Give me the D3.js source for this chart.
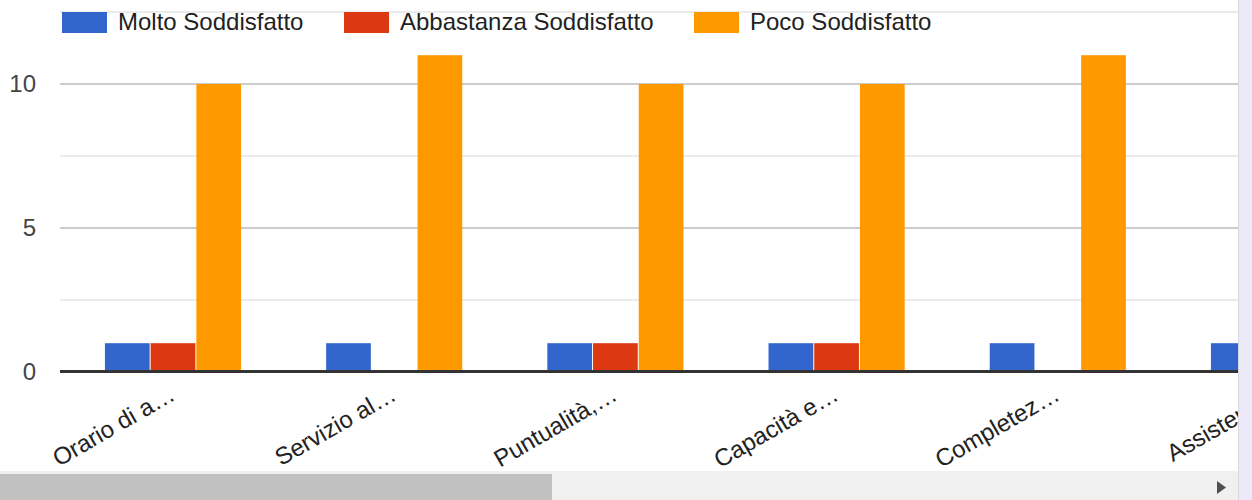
<!DOCTYPE html>
<html>
<head>
<meta charset="utf-8">
<script src="https://cdn.jsdelivr.net/npm/d3@7"></script>
<style>
  html, body { margin: 0; padding: 0; background: #fff; overflow: hidden; }
  svg { display: block; font-family: "Liberation Sans", Arial, sans-serif; }
</style>
</head>
<body>
<svg id="chart" width="1252" height="500"></svg>
<script>
const categories = ["Orario di a…", "Servizio al…", "Puntualità,…", "Capacità e…", "Completez…", "Assistenz…"];
const seriesNames = ["Molto Soddisfatto", "Abbastanza Soddisfatto", "Poco Soddisfatto"];
const seriesColors = ["#3366cc", "#dc3912", "#ff9900"];
const molto = [1, 1, 1, 1, 1, 1];
const abbastanza = [1, 0, 1, 1, 0, 0];
const poco = [10, 11, 10, 10, 11, 10];
const majorTicks = [0, 5, 10];
const minorTicks = [2.5, 7.5, 12.5];

const values = [molto, abbastanza, poco];
const svg = d3.select("#chart");
const W = 1252, H = 500, clipRight = 1238;

const step = 221.2;
const x0 = 62.9;
const x = d3.scaleBand().domain(categories)
  .range([x0, x0 + categories.length * step])
  .paddingInner(0.38).paddingOuter(0.19);
const xs = d3.scaleBand().domain(seriesNames).range([0, x.bandwidth()]).padding(0);
const y = d3.scaleLinear().domain([0, 12.5]).range([372, 12]);

svg.append("defs").append("clipPath").attr("id", "clip")
  .append("rect").attr("x", 0).attr("y", 0).attr("width", clipRight).attr("height", H);

const g = svg.append("g").attr("clip-path", "url(#clip)");

// gridlines
g.selectAll("line.minor").data(minorTicks).enter().append("line")
  .attr("x1", 60).attr("x2", clipRight)
  .attr("y1", d => y(d)).attr("y2", d => y(d))
  .attr("stroke", "#ebebeb").attr("stroke-width", 2);
g.selectAll("line.major").data(majorTicks.filter(d => d !== 0)).enter().append("line")
  .attr("x1", 60).attr("x2", clipRight)
  .attr("y1", d => y(d)).attr("y2", d => y(d))
  .attr("stroke", "#cccccc").attr("stroke-width", 2);

// bars
seriesNames.forEach((s, si) => {
  g.selectAll("rect.s" + si).data(categories).enter().append("rect")
    .attr("x", (c) => x(c) + xs(s))
    .attr("width", xs.bandwidth() - 1)
    .attr("y", (c, i) => y(values[si][i]))
    .attr("height", (c, i) => y(0) - y(values[si][i]))
    .attr("fill", seriesColors[si]);
});

// baseline
g.append("line").attr("x1", 60).attr("x2", clipRight)
  .attr("y1", y(0) - 0.5).attr("y2", y(0) - 0.5)
  .attr("stroke", "#333333").attr("stroke-width", 3);

// y tick labels
svg.selectAll("text.ytick").data(majorTicks).enter().append("text")
  .attr("x", 36).attr("y", d => y(d)).attr("dy", "0.35em")
  .attr("text-anchor", "end").attr("font-size", 24).attr("fill", "#444444")
  .text(d => d);

// x labels
g.selectAll("text.xlab").data(categories).enter().append("text")
  .attr("transform", c => `translate(${x(c) + x.bandwidth() / 2 + 3},${399}) rotate(-30)`)
  .attr("text-anchor", "end").attr("font-size", 24).attr("fill", "#222222")
  .text(c => c);

// legend
const legendX = [62, 344, 694];
const leg = svg.selectAll("g.leg").data(seriesNames).enter().append("g")
  .attr("transform", (d, i) => `translate(${legendX[i]},0)`);
leg.append("rect").attr("x", 0).attr("y", 12).attr("width", 45).attr("height", 21)
  .attr("fill", (d, i) => seriesColors[i]);
leg.append("text").attr("x", 56).attr("y", 30).attr("font-size", 24).attr("fill", "#222222")
  .text(d => d);

// scrollbar
svg.append("rect").attr("x", 0).attr("y", 471).attr("width", clipRight).attr("height", 29).attr("fill", "#f0f0f0");
svg.append("rect").attr("x", 0).attr("y", 474).attr("width", 552).attr("height", 26).attr("fill", "#c1c1c1");
svg.append("path").attr("d", "M1217,481 L1226,487.5 L1217,494 Z").attr("fill", "#505050");

// right strip
svg.append("rect").attr("x", clipRight).attr("y", 0).attr("width", W - clipRight).attr("height", H).attr("fill", "#ece9f8");
svg.append("line").attr("x1", clipRight + 0.5).attr("x2", clipRight + 0.5).attr("y1", 0).attr("y2", H)
  .attr("stroke", "#d8d8d8").attr("stroke-width", 1);
</script>
</body>
</html>
